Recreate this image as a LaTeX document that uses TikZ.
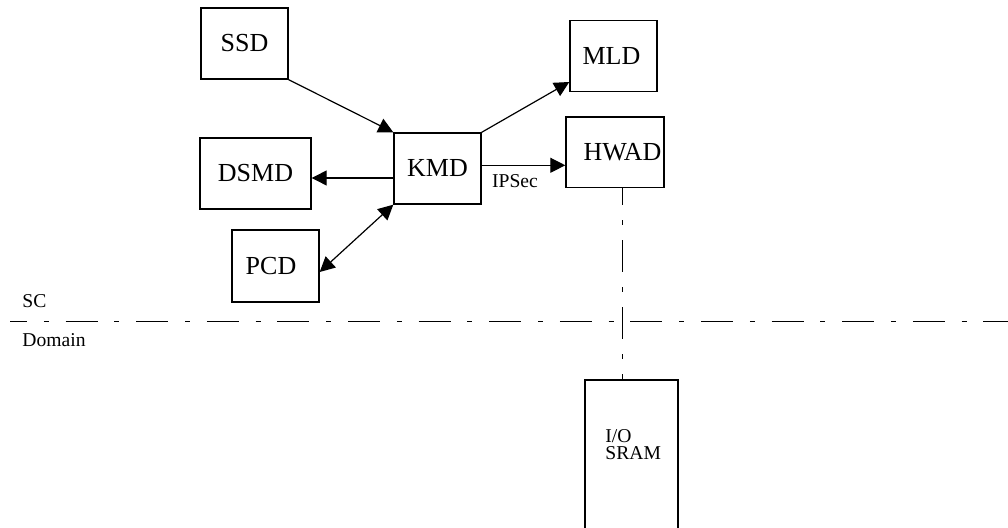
\documentclass[tikz,border=0pt]{standalone}
\usepackage{fontspec}
\setmainfont{Liberation Serif}
\usetikzlibrary{arrows.meta}
\tikzset{
  box/.style={draw, rectangle, line width=0.7pt, inner sep=0pt, font=\fontsize{13}{15}\selectfont},
  arr/.style={line width=0.6pt, -{Triangle[length=7.5pt,width=7.5pt]}},
  darr/.style={line width=0.6pt, {Triangle[length=7.5pt,width=7.5pt]}-{Triangle[length=7.5pt,width=7.5pt]}},
  small/.style={inner sep=0pt, font=\fontsize{9.8}{8.8}\selectfont},
  hdash/.style={line width=0.6pt, dash pattern=on 16pt off 8.4pt on 2.5pt off 8.4pt, dash phase=7.5pt},
  vdash/.style={line width=0.6pt, dash pattern=on 16pt off 7.5pt on 2.5pt off 7.5pt, dash phase=7.5pt}
}
\begin{document}
\begin{tikzpicture}[x=0.5pt,y=-0.5pt]
\useasboundingbox (0,0) rectangle (1008,528);
\clip (0,0) rectangle (1008,528);
\node[box, minimum width=43.5pt, minimum height=35.5pt] (SSD) at (244.5,43.5) {SSD};
\node[box, minimum width=55.5pt, minimum height=35.5pt] (DSMD) at (255.5,173.5) {DSMD};
\node[box, minimum width=43.5pt, minimum height=35.5pt] (KMD) at (437.5,168.5) {KMD};
\node[box, minimum width=43.5pt, minimum height=36pt] (PCD) at (275.5,266) {PCD\hspace*{4.5pt}};
\node[box, minimum width=43.5pt, minimum height=35.5pt] (MLD) at (613.5,56.3) {MLD\hspace*{2pt}};
\node[box, minimum width=49pt, minimum height=35.3pt] (HWAD) at (615,152.5) {\hspace*{7.5pt}HWAD};
\node[box, minimum width=46.5pt, minimum height=80pt] (SRAM) at (631.5,460) {};
\node[small, anchor=north west, align=left] (sramtxt) at (605,429) {I/O\\SRAM};
\node[small] (ipsec) at (515,181) {IPSec};
\node[small, anchor=west] (sc) at (22,301.5) {SC};
\node[small, anchor=west] (domain) at (22,340.5) {Domain};
\coordinate (hl) at (10,321.7);
\coordinate (hr) at (1010,321.7);

\draw[arr] (SSD.south east) -- (KMD.north west);
\draw[arr] ([yshift=-4.75pt]KMD.west) -- ([yshift=-4.75pt]KMD.west -| DSMD.east);
\draw[darr] (KMD.south west) -- ([yshift=-3pt]PCD.east);
\draw[arr] (KMD.north east) -- ([yshift=-12.85pt]MLD.west);
\draw[arr] ([yshift=1.6pt]KMD.east) -- ([yshift=1.6pt]KMD.east -| HWAD.west);
\draw[vdash] ([xshift=3.85pt]HWAD.south) -- ([xshift=3.85pt]HWAD.south |- SRAM.north);
\draw[hdash] (hl) -- (hr);
\end{tikzpicture}
\end{document}
